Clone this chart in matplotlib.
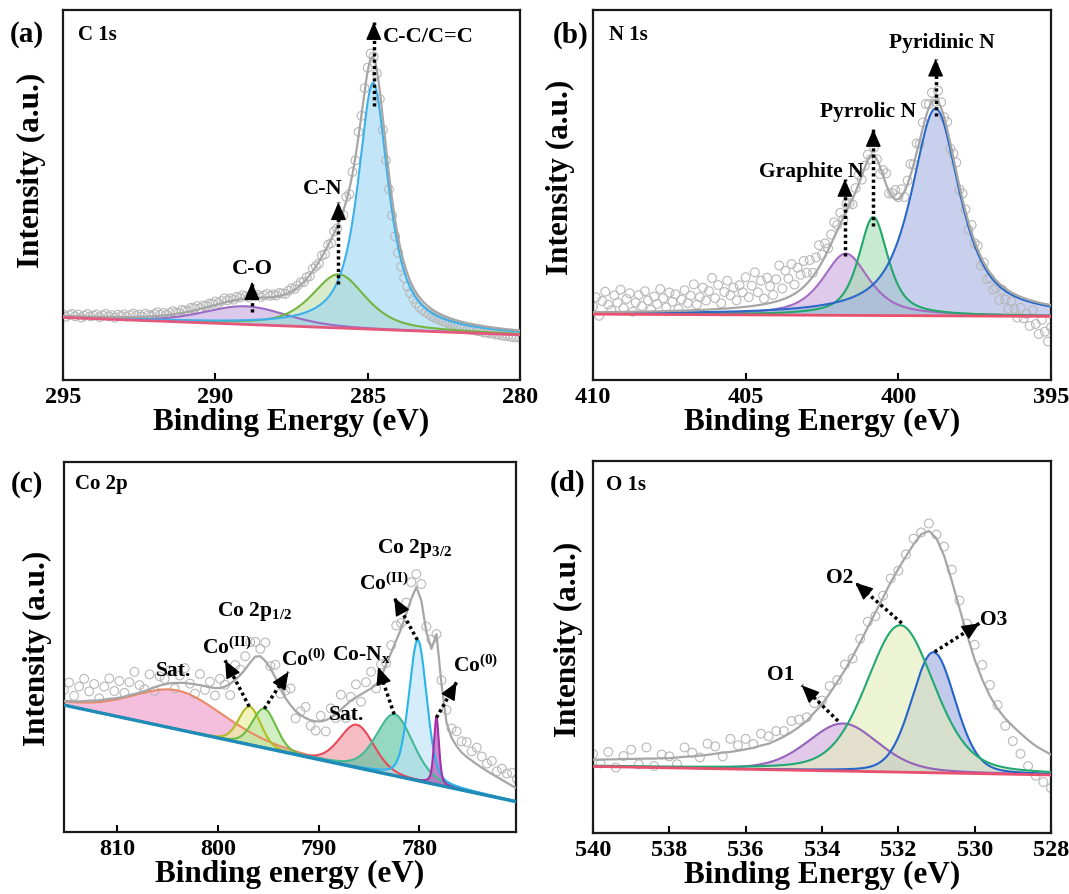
import numpy as np
import matplotlib
matplotlib.use("Agg")
import matplotlib.pyplot as plt

plt.rcParams.update({
    "font.family": "Liberation Serif",
    "font.weight": "bold",
    "mathtext.fontset": "custom",
    "mathtext.rm": "Liberation Serif:bold",
    "mathtext.bf": "Liberation Serif:bold",
    "mathtext.it": "Liberation Serif:bold:italic",
})

W, H = 1069, 895

# ---------------- (a) C 1s ----------------
A_XLIM = (295.0, 280.0)
A_BASE = (16.9, 12.2)
A_CENTER = [289.0, 285.95, 284.82]
A_HEIGHT = [4.9, 14.5, 66.6]
A_FWHM = [3.2, 2.1, 1.2]
A_ETA = [0.3, 0.6, 0.85]
A_LINE = ["#9b6cc4", "#74b441", "#3cb0ea"]
A_FILL = ["#c4a4de", "#bfe0a6", "#9cd4f4"]
# measured points minus fit, 295.0 -> 280.0 eV every 0.1 eV
A_RESID = [
    0.4, -0.2, 0.3, 0.6, 0.0, 0.5, -0.3, 0.2, 0.7, 0.1,
    0.3, 0.6, -0.1, 0.4, 0.8, 0.2, 0.5, -0.2, 0.6, 0.3,
    0.7, 0.1, 0.5, 0.9, 0.3, 0.6, 0.0, 0.8, 0.4, 0.2,
    0.6, 1.0, 0.3, 0.7, 0.1, 0.5, 0.9, 0.4, 0.2, 0.8,
    0.5, 0.3, 0.9, 0.6, 1.0, 0.2, 0.7, 0.4, 0.8, 0.5,
    0.9, 0.3, 0.6, 1.1, 0.4, 0.7, 0.2, 0.8, 0.5, 1.0,
    0.6, 0.3, 0.9, 0.5, 0.8, 0.2, 0.6, 1.0, 0.4, 0.7,
    0.3, 0.8, 0.5, 0.1, 0.6, 0.9, 0.2, 0.5, 0.7, 0.0,
    0.4, -0.3, 0.6, 0.1, -0.5, 0.3, -0.8, 0.2, -1.0, 0.5,
    -0.5, 0.8, -1.2, 1.0, -1.5, 0.6, -1.0, 1.2, -0.5, 0.8,
    1.0, 1.5, 0.5, -1.0, -2.0, -3.0, -3.5, -4.0, -4.5, -4.5,
    -4.2, -4.0, -3.8, -3.5, -3.2, -3.0, -2.8, -2.6, -2.4, -2.2,
    -2.0, -1.9, -1.8, -1.7, -1.6, -1.6, -1.5, -1.5, -1.5, -1.4,
    -1.4, -1.5, -1.4, -1.5, -1.6, -1.5, -1.6, -1.5, -1.7, -1.6,
    -1.7, -1.6, -1.8, -1.7, -1.8, -1.9, -1.8, -1.9, -2.0, -1.9,
    -2.0,
]

# ---------------- (b) N 1s ----------------
B_XLIM = (410.0, 395.0)
B_BASE = (17.8, 17.2)
B_CENTER = [401.72, 400.82, 398.78]
B_HEIGHT = [16.7, 26.6, 56.0]
B_FWHM = [1.8, 1.15, 1.9]
B_ETA = [0.7, 0.7, 0.8]
B_LINE = ["#a46cc4", "#22a86a", "#2a68c8"]
B_FILL = ["#cba8de", "#a4dcb2", "#a6b2e4"]
B_RESID = [
    1.5, 4.0, -1.0, 3.0, 5.5, 2.0, 0.5, 4.5, 2.5, 6.0,
    1.0, 3.5, 5.0, 0.0, 2.5, 4.5, 1.5, 5.5, 3.0, 0.5,
    4.0, 2.0, 6.0, 3.5, 1.0, 5.0, 2.5, 4.5, 0.5, 3.0,
    5.5, 2.0, 4.0, 7.0, 1.5, 3.5, 6.0, 2.5, 5.0, 8.5,
    3.0, 6.5, 1.5, 4.5, 7.5, 3.5, 5.5, 2.0, 6.0, 4.0,
    8.0, 2.5, 5.5, 9.0, 3.5, 6.5, 1.5, 7.0, 4.5, 2.0,
    6.0, 9.5, 3.0, 7.5, 5.0, 8.5, 2.5, 6.5, 4.0, 7.0,
    3.0, 5.5, 1.0, 4.0, 6.0, 2.0, 3.5, 0.5, 2.5, 4.0,
    1.5, 3.0, -0.5, 2.0, 0.5, -1.5, 1.0, 2.5, -1.0, 0.5,
    1.5, -1.0, 2.0, 0.0, -2.0, 1.5, 3.0, -0.5, 1.0, 2.5,
    0.5, 2.0, -1.5, 1.0, 3.0, 0.0, 2.5, -1.0, 1.5, 3.5,
    1.0, 2.5, -0.5, 3.0, 1.5, 0.0, 2.0, -1.5, 1.0, 2.5,
    -1.0, 1.5, 0.5, -2.0, 2.0, -0.5, 1.0, -2.5, 0.0, -3.0,
    -1.5, -3.5, -2.0, -4.5, -1.0, -3.0, -5.0, -2.5, -4.0, -6.0,
    -3.0, -5.5, -4.0, -7.0, -2.5, -6.0, -8.5, -4.5, -7.5, -10.0,
    -6.0,
]

# ---------------- (c) Co 2p ----------------
C_XLIM = (815.3, 770.4)
C_BASE = (34.3, 8.2)
C_CENTER = [804.0, 796.85, 795.4, 786.2, 782.45, 780.15, 778.3]
C_HEIGHT = [10.5, 10.3, 10.6, 11.6, 16.6, 38.0, 18.2]
C_FWHM = [11.0, 2.6, 2.8, 4.0, 4.3, 2.1, 0.6]
C_ETA = [0.3, 0.2, 0.2, 0.2, 0.3, 0.3, 0.5]
C_LINE = ["#e88a66", "#b4bc22", "#6cbe42", "#e84a5a", "#44b894", "#2ab4ec", "#a62ea6"]
C_FILL = ["#f29ccb", "#eaf09a", "#b8e6a2", "#f29aa6", "#5cc6a2", "#bfe4f8", "#b448b4"]
# fit envelope and measured-minus-envelope, 815.3 -> 770.3 eV every 0.5 eV
C_ENV = [
    35.4, 35.4, 35.3, 35.3, 35.4, 35.5, 35.5, 35.6, 35.8, 36.0,
    36.1, 36.3, 36.6, 37.0, 37.3, 37.7, 38.1, 38.6, 39.1, 39.6,
    39.9, 40.2, 40.3, 40.3, 40.3, 40.1, 39.9, 39.7, 39.4, 39.1,
    38.9, 38.9, 39.3, 40.0, 41.1, 42.4, 44.0, 45.8, 47.4, 47.5,
    46.2, 44.3, 41.7, 38.9, 36.2, 34.3, 32.7, 31.6, 30.8, 30.2,
    29.9, 29.9, 30.2, 30.9, 31.8, 33.1, 34.3, 35.5, 36.4, 37.2,
    38.0, 38.8, 39.8, 41.8, 45.2, 48.5, 51.8, 55.0, 59.0, 63.0,
    66.2, 62.5, 54.0, 49.5, 53.5, 40.0, 29.5, 25.5, 23.2, 21.5,
    20.3, 19.3, 18.3, 17.4, 16.5, 15.7, 14.9, 14.1, 13.3, 12.5,
    11.8,
]
C_RESID = [
    3.0, 5.0, 1.5, 4.0, 6.0, 2.5, 4.5, 0.5, 3.5, 5.5,
    2.0, 4.5, 1.0, 3.5, 6.0, 2.0, 0.5, 4.0, -1.0, 2.5,
    1.5, 3.5, -1.5, 2.0, 4.0, 0.0, -2.5, 3.0, -1.0, 1.5,
    -2.0, 2.5, 0.5, -3.0, 4.0, 1.5, 3.5, 5.5, 4.0, 2.0,
    5.0, 0.5, 3.5, -1.5, 2.0, 4.5, -2.0, 1.0, 3.0, -1.5,
    -2.5, 1.5, -3.0, 2.5, -1.0, 4.0, -3.5, 1.0, 3.5, -2.0,
    2.5, 4.5, -1.0, 3.5, 0.5, 2.0, 4.0, 1.5, 3.0, 4.5,
    3.5, 4.5, 1.5, 2.5, 0.0, 1.0, 3.5, 2.5, 4.0, 3.0,
    4.0, 2.5, 4.5, 3.0, 2.0, 3.5, 1.5, 3.0, 2.5, 3.5,
    2.5,
]

# ---------------- (d) O 1s ----------------
D_XLIM = (540.0, 528.0)
D_BASE = (17.9, 15.6)
D_CENTER = [533.45, 531.95, 531.08]
D_HEIGHT = [12.8, 39.5, 32.4]
D_FWHM = [2.2, 2.1, 1.35]
D_ETA = [0.3, 0.3, 0.2]
D_LINE = ["#9462ba", "#22a874", "#2464c8"]
D_FILL = ["#cfa6dc", "#e2eeb8", "#9aa8de"]
# fit envelope and measured-minus-envelope, 540.0 -> 528.0 eV every 0.2 eV
D_ENV = [
    19.7, 19.7, 19.8, 19.8, 19.9, 19.9, 19.95, 20.0, 20.0, 20.1,
    20.1, 20.3, 20.5, 20.6, 20.8, 21.0, 21.3, 21.6, 21.8, 22.1,
    22.5, 22.9, 23.5, 24.0, 24.9, 25.9, 27.1, 28.5, 30.1, 32.4,
    34.6, 37.5, 40.6, 43.8, 47.4, 51.2, 55.3, 59.3, 63.3, 67.4,
    71.0, 74.4, 77.6, 80.3, 81.2, 79.2, 74.5, 67.8, 60.5, 53.3,
    46.6, 41.2, 36.8, 33.4, 30.8, 28.7, 26.8, 25.0, 23.4, 22.2,
    21.1,
]
D_RESID = [
    1.5, -1.0, 2.0, -2.2, 0.8, 2.5, -1.5, 3.0, -2.0, 1.0,
    0.5, -1.8, 2.5, 1.0, -0.5, 3.0, 2.0, -1.0, 3.5, 1.5,
    2.8, 1.0, 3.2, 2.0, 2.5, 1.5, 3.0, 2.0, 1.0, 2.5,
    1.0, 2.0, 0.5, 1.5, -0.5, 1.0, 1.5, -1.0, 0.5, 1.0,
    -0.5, 0.5, 1.5, 0.5, 2.0, 1.0, 2.5, 3.0, 2.0, 3.0,
    4.0, 4.0, 3.0, 1.0, -2.0, -4.0, -5.5, -7.0, -8.0, -8.5,
    -9.0,
]

GREY = "#a6a6a6"
DOTS = "#b8b8b8"


def pv(x, c, h, w, eta):
    d = (x - c) / w
    return h * (eta / (1 + 4 * d ** 2) + (1 - eta) * np.exp(-4 * np.log(2) * d ** 2))


def make_ax(fig, left, top, right, bottom):
    return fig.add_axes([left / W, 1 - bottom / H, (right - left) / W, (bottom - top) / H])


def frame(ax, xlim, ticks, xlabel, ylab_xy, xlab_y=-0.073):
    ax.set_xlim(*xlim)
    ax.set_ylim(0, 100)
    ax.set_xticks(ticks)
    ax.set_yticks([])
    ax.tick_params(axis="x", direction="in", length=5, width=1.5, labelsize=17.5, pad=4)
    for s in ax.spines.values():
        s.set_linewidth(1.6)
        s.set_color("#1a1a1a")
    ax.set_xlabel(xlabel, fontsize=22.5, fontweight="bold")
    ax.set_ylabel("Intensity (a.u.)", fontsize=22.5, fontweight="bold")
    ax.yaxis.set_label_coords(*ylab_xy)
    ax.xaxis.set_label_coords(0.5, xlab_y)


def components(ax, xlim, base, centers, heights, fwhm, eta, lines, fills,
               alpha=0.6, lw=1.5):
    x = np.linspace(xlim[0], xlim[1], 1500)
    b = np.linspace(base[0], base[1], x.size)
    total = b.copy()
    for c, h, w, e, lc, fc in zip(centers, heights, fwhm, eta, lines, fills):
        p = pv(x, c, h, w, e)
        total = total + p
        ax.fill_between(x, b, b + p, color=fc, alpha=alpha, lw=0, zorder=1)
        ax.plot(x, b + p, color=lc, lw=lw, zorder=3)
    return x, b, total


def fit_at(x, xlim, base, centers, heights, fwhm, eta):
    b = base[0] + (base[1] - base[0]) * (x - xlim[0]) / (xlim[1] - xlim[0])
    return b + sum(pv(x, c, h, w, e) for c, h, w, e in zip(centers, heights, fwhm, eta))


def dots(ax, x, y):
    ax.scatter(x, y, s=40, facecolors="none", edgecolors=DOTS, linewidths=0.8, zorder=2)


def arrow(ax, start, tip):
    (x0, y0), (x1, y1) = start, tip
    ax.plot([x0, x1], [y0, y1], color="k", lw=2.5, ls=(0, (0.9, 0.9)), zorder=5)
    ax.annotate("", xy=(x1, y1), xytext=(x1 - 0.05 * (x1 - x0), y1 - 0.05 * (y1 - y0)),
                arrowprops=dict(arrowstyle="-|>,head_length=0.55,head_width=0.24",
                                color="k", lw=1, shrinkA=0, shrinkB=0, mutation_scale=20),
                zorder=6)


def label(ax, x, y, s, size=15.5, ha="center"):
    ax.text(x, y, s, fontsize=size, ha=ha, va="center", zorder=7)


fig = plt.figure(figsize=(W / 100, H / 100), dpi=100)

# ---- (a)
ax = make_ax(fig, 63, 11, 520, 381)
x, b, tot = components(ax, A_XLIM, A_BASE, A_CENTER, A_HEIGHT, A_FWHM, A_ETA, A_LINE, A_FILL)
xr = np.linspace(A_XLIM[0], A_XLIM[1], len(A_RESID))
dots(ax, xr, fit_at(xr, A_XLIM, A_BASE, A_CENTER, A_HEIGHT, A_FWHM, A_ETA) + np.array(A_RESID))
ax.plot(x, tot, color=GREY, lw=1.6, zorder=4)
ax.plot(x, b, color="#e4587c", lw=2, zorder=4)
arrow(ax, (288.8, 18.3), (288.8, 26.4))
arrow(ax, (285.96, 25.9), (285.96, 48.0))
arrow(ax, (284.8, 74.1), (284.8, 96.7))
label(ax, 288.8, 30.2, "C-O", size=16)
label(ax, 286.48, 51.8, "C-N", size=16)
label(ax, 284.49, 93.0, "C-C/C=C", size=16, ha="left")
ax.text(0.033, 0.934, "C 1s", transform=ax.transAxes, fontsize=15, va="center")
frame(ax, A_XLIM, [295, 290, 285, 280], "Binding Energy (eV)", (-0.037, 0.569))

# ---- (b)
ax = make_ax(fig, 593, 11, 1051, 381)
x, b, tot = components(ax, B_XLIM, B_BASE, B_CENTER, B_HEIGHT, B_FWHM, B_ETA, B_LINE, B_FILL)
xr = np.linspace(B_XLIM[0], B_XLIM[1], len(B_RESID))
dots(ax, xr, fit_at(xr, B_XLIM, B_BASE, B_CENTER, B_HEIGHT, B_FWHM, B_ETA) + np.array(B_RESID))
ax.plot(x, tot, color=GREY, lw=1.6, zorder=4)
ax.plot(x, b, color="#e8506e", lw=2, zorder=4)
arrow(ax, (401.75, 33.6), (401.75, 54.3))
arrow(ax, (400.82, 41.7), (400.82, 67.8))
arrow(ax, (398.78, 71.4), (398.78, 86.8))
label(ax, 402.86, 56.6, "Graphite N")
label(ax, 400.98, 72.8, "Pyrrolic N")
label(ax, 398.58, 91.3, "Pyridinic N")
ax.text(0.034, 0.934, "N 1s", transform=ax.transAxes, fontsize=15, va="center")
frame(ax, B_XLIM, [410, 405, 400, 395], "Binding Energy (eV)", (-0.039, 0.549))

# ---- (c)
ax = make_ax(fig, 64, 463, 516, 833)
x, b, tot = components(ax, C_XLIM, C_BASE, C_CENTER, C_HEIGHT, C_FWHM, C_ETA, C_LINE, C_FILL,
                       alpha=0.65)
xe = 815.3 - 0.5 * np.arange(len(C_ENV))
dots(ax, xe, np.array(C_ENV) + np.array(C_RESID))
ax.plot(xe, C_ENV, color=GREY, lw=1.6, zorder=4)
ax.plot(x, b, color="#1f8cb8", lw=2.4, zorder=4)
arrow(ax, (796.9, 33.9), (799.3, 46.4))
arrow(ax, (795.4, 33.3), (793.0, 43.3))
arrow(ax, (782.5, 31.8), (784.1, 44.6))
arrow(ax, (780.2, 51.9), (782.5, 63.3))
arrow(ax, (778.3, 30.9), (776.3, 40.5))
label(ax, 796.4, 59.8, r"Co 2p$_{\mathbf{1/2}}$")
label(ax, 780.5, 77.0, r"Co 2p$_{\mathbf{3/2}}$")
label(ax, 804.4, 43.7, "Sat.")
label(ax, 787.2, 31.8, "Sat.")
label(ax, 799.15, 50.0, r"Co$^{\mathbf{(II)}}$")
label(ax, 791.5, 46.8, r"Co$^{\mathbf{(0)}}$")
label(ax, 785.8, 48.2, r"Co-N$_{\mathbf{x}}$")
label(ax, 783.55, 67.3, r"Co$^{\mathbf{(II)}}$")
label(ax, 774.4, 45.0, r"Co$^{\mathbf{(0)}}$")
ax.text(0.024, 0.944, "Co 2p", transform=ax.transAxes, fontsize=15, va="center")
frame(ax, C_XLIM, [810, 800, 790, 780], "Binding energy (eV)", (-0.027, 0.50))

# ---- (d)
ax = make_ax(fig, 593, 462, 1051, 834)
order = [0, 2, 1]
x, b, tot = components(ax, D_XLIM, D_BASE,
                       [D_CENTER[i] for i in order], [D_HEIGHT[i] for i in order],
                       [D_FWHM[i] for i in order], [D_ETA[i] for i in order],
                       [D_LINE[i] for i in order], [D_FILL[i] for i in order], alpha=0.6)
xe = np.linspace(D_XLIM[0], D_XLIM[1], len(D_ENV))
dots(ax, xe, np.array(D_ENV) + np.array(D_RESID))
ax.plot(xe, D_ENV, color=GREY, lw=1.6, zorder=4)
ax.plot(x, b, color="#e8506e", lw=2, zorder=4)
arrow(ax, (533.58, 30.1), (534.53, 39.7))
arrow(ax, (531.91, 56.4), (533.13, 67.3))
arrow(ax, (531.05, 48.7), (529.87, 56.4))
label(ax, 535.07, 42.8, "O1")
label(ax, 533.55, 68.7, "O2")
label(ax, 529.51, 57.4, "O3")
ax.text(0.028, 0.937, "O 1s", transform=ax.transAxes, fontsize=15, va="center")
frame(ax, D_XLIM, [540, 538, 536, 534, 532, 530, 528], "Binding Energy (eV)", (-0.022, 0.524))

for s, px, py in [("(a)", 27, 35), ("(b)", 571, 35), ("(c)", 27, 485), ("(d)", 568, 483)]:
    fig.text(px / W, 1 - py / H, s, fontsize=21, ha="center", va="center")

fig.savefig("out.png", dpi=100)
